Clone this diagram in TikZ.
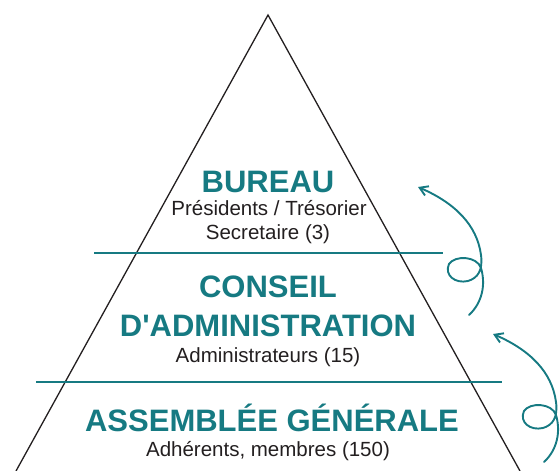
\documentclass[tikz,border=0pt]{standalone}
\usepackage{fontspec}
\setmainfont{Liberation Sans}[Ligatures=TeXOff]
\usetikzlibrary{arrows.meta}
\definecolor{teal1}{RGB}{22,122,130}
\definecolor{ink}{RGB}{35,31,32}
\tikzset{
  title/.style={anchor=base, inner sep=0pt, text=teal1, font=\fontsize{31}{31}\selectfont\bfseries},
  sub/.style={anchor=base, inner sep=0pt, text=ink, font=\fontsize{20.5}{20.5}\selectfont},
  edge/.style={draw=ink, line width=1.3pt},
  level/.style={draw=teal1, line width=1.8pt},
  curl/.style={draw=teal1, line width=1.9pt, line cap=round, -{Straight Barb[length=8pt,width=10pt,line width=1.9pt]}},
  pics/curlarrow/.style={code={
    \coordinate (-s) at (469,315);
    \coordinate (-e) at (418,187);
    \draw[curl] (-s) .. controls (482,303) and (486,285) .. (481,268)
      .. controls (477,256) and (455,255) .. (449,264)
      .. controls (444,275) and (455,284) .. (468,281)
      .. controls (478,278) and (483,270) .. (481,255)
      .. controls (477,225) and (455,203) .. (-e);
  }}
}
\begin{document}
\begin{tikzpicture}[x=1pt,y=-1pt]
\useasboundingbox (0,0) rectangle (560,471);
\begin{scope}
\clip (0,0) rectangle (560,471);
\coordinate (apex) at (268,15);
\coordinate (bl) at (16,471);
\coordinate (br) at (520,471);
\draw[edge, line join=miter] (bl) -- (apex) -- (br);
\end{scope}
\coordinate (l1a) at (94,253);
\coordinate (l1b) at (443,253);
\coordinate (l2a) at (36,382);
\coordinate (l2b) at (502,382);
\draw[level] (l1a) -- (l1b);
\draw[level] (l2a) -- (l2b);

\node[title] (bureau) at (268,192) {BUREAU};
\node[sub] (pres) at (269,215) {Présidents / Trésorier};
\node[sub] (secr) at (268,239) {Secretaire (3)};

\node[title] (conseil) at (268,297) {CONSEIL};
\node[title] (admin) at (268,336) {D'ADMINISTRATION};
\node[sub] (admins) at (268,362) {Administrateurs (15)};

\node[title] (ag) at (272,431) {ASSEMBLÉE GÉNÉRALE};
\node[sub] (adh) at (268,456) {Adhérents, membres (150)};

\pic (c1) at (0,0) {curlarrow};
\pic (c2) at (75,147) {curlarrow};
\end{tikzpicture}
\end{document}
